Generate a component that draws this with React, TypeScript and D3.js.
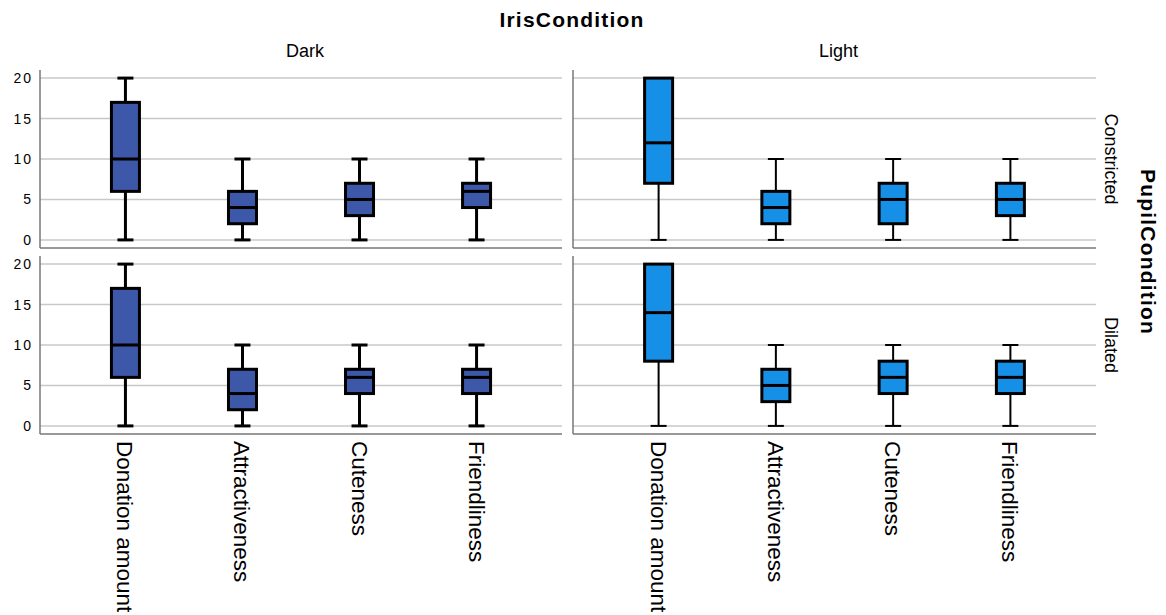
import React from 'react';
import * as d3 from 'd3';

// box stats: [min, q1, median, q3, max]
const measures = ['Donation amount', 'Attractiveness', 'Cuteness', 'Friendliness'];
const irisLevels = ['Dark', 'Light'];
const pupilLevels = ['Constricted', 'Dilated'];
const yTicks = [0, 5, 10, 15, 20];

const darkConstricted = [[0, 6, 10, 17, 20], [0, 2, 4, 6, 10], [0, 3, 5, 7, 10], [0, 4, 6, 7, 10]];
const lightConstricted = [[0, 7, 12, 20, 20], [0, 2, 4, 6, 10], [0, 2, 5, 7, 10], [0, 3, 5, 7, 10]];
const darkDilated = [[0, 6, 10, 17, 20], [0, 2, 4, 7, 10], [0, 4, 6, 7, 10], [0, 4, 6, 7, 10]];
const lightDilated = [[0, 8, 14, 20, 20], [0, 3, 5, 7, 10], [0, 4, 6, 8, 10], [0, 4, 6, 8, 10]];

const cells = [
  [darkConstricted, lightConstricted],
  [darkDilated, lightDilated],
];

const fills = ['#3d58a8', '#1590e6'];
const whiskerW = [3, 2];

const W = 1166, H = 615;
const colX = [[40, 562], [573, 1096]];
const rowY = [[70, 248], [256, 434]];

const font = '"Liberation Sans", Arial, sans-serif';

export default function App() {
  const boxW = 28, capW = 16;
  return (
    <svg width={W} height={H} style={{ position: 'absolute', left: 0, top: 0, background: '#fff' }}>
      <text x={572} y={27} textAnchor="middle" fontFamily={font} fontWeight="bold" fontSize={21} letterSpacing={1.2}>IrisCondition</text>
      {irisLevels.map((l, c) => (
        <text key={l} x={(colX[c][0] + colX[c][1]) / 2 + 4} y={57} textAnchor="middle" fontFamily={font} fontSize={18}>{l}</text>
      ))}
      {pupilLevels.map((l, r) => (
        <text key={l} transform={`translate(1105,${(rowY[r][0] + rowY[r][1]) / 2}) rotate(90)`} textAnchor="middle" fontFamily={font} fontSize={18}>{l}</text>
      ))}
      <text transform={`translate(1141,252) rotate(90)`} textAnchor="middle" fontFamily={font} fontWeight="bold" fontSize={21} letterSpacing={1.2}>PupilCondition</text>

      {rowY.map((ry, r) => {
        const y = d3.scaleLinear().domain([-1, 21]).range([ry[1], ry[0]]);
        return (
          <g key={r}>
            {yTicks.map(t => (
              <text key={t} x={33} y={y(t) + 5} textAnchor="end" fontFamily={font} fontSize={14} letterSpacing={2}>{t}</text>
            ))}
            {colX.map((cx, c) => {
              const x = d3.scaleBand<string>().domain(measures).range(cx).paddingInner(0).paddingOuter(0.23);
              const stats = cells[r][c];
              return (
                <g key={c}>
                  {yTicks.map(t => (
                    <line key={t} x1={cx[0]} x2={cx[1]} y1={y(t)} y2={y(t)} stroke="#c8c8c8" strokeWidth={1.5} />
                  ))}
                  <line x1={cx[0]} x2={cx[0]} y1={ry[0]} y2={ry[1]} stroke="#777" strokeWidth={1.5} />
                  <line x1={cx[0]} x2={cx[1]} y1={ry[1]} y2={ry[1]} stroke="#777" strokeWidth={1.5} />
                  {measures.map((m, i) => {
                    const [mn, q1, md, q3, mx] = stats[i];
                    const xc = (x(m) as number) + x.bandwidth() / 2;
                    const sw = whiskerW[c];
                    return (
                      <g key={m}>
                        {q3 < mx && <line x1={xc} x2={xc} y1={y(q3)} y2={y(mx)} stroke="#000" strokeWidth={sw} />}
                        {q1 > mn && <line x1={xc} x2={xc} y1={y(q1)} y2={y(mn)} stroke="#000" strokeWidth={sw} />}
                        {q3 < mx && <line x1={xc - capW / 2} x2={xc + capW / 2} y1={y(mx)} y2={y(mx)} stroke="#000" strokeWidth={sw} />}
                        <line x1={xc - capW / 2} x2={xc + capW / 2} y1={y(mn)} y2={y(mn)} stroke="#000" strokeWidth={sw} />
                        <rect x={xc - boxW / 2} y={y(q3)} width={boxW} height={y(q1) - y(q3)} fill={fills[c]} stroke="#000" strokeWidth={3} />
                        <line x1={xc - boxW / 2} x2={xc + boxW / 2} y1={y(md)} y2={y(md)} stroke="#000" strokeWidth={3} />
                      </g>
                    );
                  })}
                  {r === 1 && measures.map(m => (
                    <text key={m} transform={`translate(${(x(m) as number) + x.bandwidth() / 2 - 8},441) rotate(90)`} fontFamily={font} fontSize={22.5}>{m}</text>
                  ))}
                </g>
              );
            })}
          </g>
        );
      })}
    </svg>
  );
}
